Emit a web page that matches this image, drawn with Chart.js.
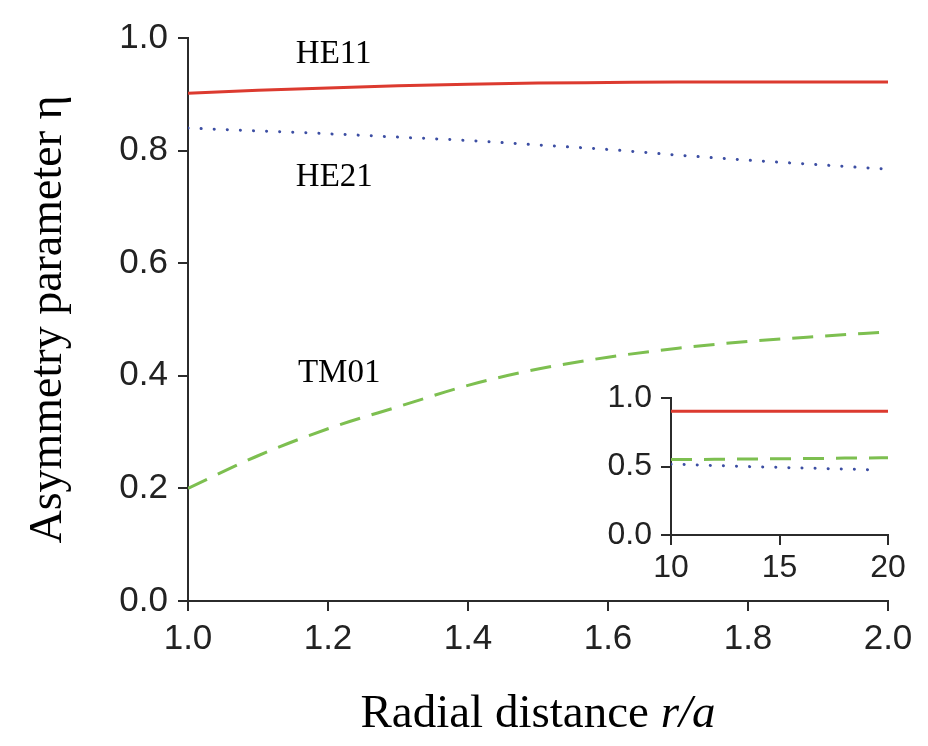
<!DOCTYPE html>
<html>
<head>
<meta charset="utf-8">
<script src="https://cdn.jsdelivr.net/npm/chart.js@4"></script>
<style>
  body { margin: 0; background: #fff; overflow: hidden; }
  #wrap { position: relative; width: 928px; height: 746px; }
  #mainChart { position: absolute; left: 0; top: 0; }
  #insetChart { position: absolute; left: 560px; top: 370px; }
</style>
</head>
<body>
<div id="wrap">
  <canvas id="mainChart" width="928" height="746"></canvas>
  <canvas id="insetChart" width="368" height="250"></canvas>
</div>
<script>
// -------------------- Data --------------------
const radius = [1.0, 1.1, 1.2, 1.3, 1.4, 1.5, 1.6, 1.7, 1.8, 1.9, 2.0];
const he11 = [0.902, 0.907, 0.911, 0.915, 0.918, 0.920, 0.921, 0.922, 0.922, 0.922, 0.922];
const he21 = [0.840, 0.835, 0.830, 0.824, 0.818, 0.810, 0.802, 0.792, 0.783, 0.775, 0.767];
const tm01 = [0.200, 0.258, 0.306, 0.345, 0.383, 0.412, 0.433, 0.449, 0.461, 0.470, 0.478];

const insetRadius = [10, 11, 12, 13, 14, 15, 16, 17, 18, 19, 20];
const insetHe11 = [0.905, 0.905, 0.905, 0.905, 0.905, 0.905, 0.905, 0.905, 0.904, 0.904, 0.904];
const insetTm01 = [0.551, 0.552, 0.553, 0.555, 0.556, 0.557, 0.559, 0.560, 0.562, 0.563, 0.565];
const insetRadiusHe21 = [10, 11, 12, 13, 14, 15, 16, 17, 18, 19, 19.5];
const insetHe21 = [0.518, 0.513, 0.508, 0.503, 0.498, 0.494, 0.490, 0.486, 0.482, 0.478, 0.476];

const xTicksMain = [1.0, 1.2, 1.4, 1.6, 1.8, 2.0];
const yTicksMain = [0.0, 0.2, 0.4, 0.6, 0.8, 1.0];
const xTicksInset = [10, 15, 20];
const yTicksInset = [0.0, 0.5, 1.0];

// curve names, placed at (r, eta) of their left baseline
const curveNames = ["HE11", "HE21", "TM01"];
const curveNameR = [1.154, 1.154, 1.157];
const curveNameEta = [0.955, 0.737, 0.389];

// -------------------- Styles --------------------
const RED = "#dc3a2f";
const BLUE = "#3c4ea3";
const GREEN = "#7dbf50";
const AXIS = "#2b2b2b";
const SANS = "'Liberation Sans', Arial, sans-serif";
const SERIF = "'Liberation Serif', 'Times New Roman', serif";

function points(xs, ys) {
  return xs.map((x, i) => ({ x: x, y: ys[i] }));
}

function lineSets(xs, a, b, cxs, c) {
  return [
    { data: points(xs, a), borderColor: RED, borderWidth: 3 },
    { data: points(cxs, c), borderColor: BLUE, borderWidth: 3,
      borderDash: [0.1, 13], borderCapStyle: "round" },
    { data: points(xs, b), borderColor: GREEN, borderWidth: 3,
      borderDash: [21, 12] }
  ];
}

function axisOpts(ticksList, fitKey, fitValue, tickOpts, extra) {
  return Object.assign({
    type: "linear",
    min: ticksList[0],
    max: ticksList[ticksList.length - 1],
    afterBuildTicks: (scale) => { scale.ticks = ticksList.map(v => ({ value: v })); },
    afterFit: (scale) => { scale[fitKey] = fitValue; },
    border: { display: true, color: AXIS, width: 2 },
    grid: { drawOnChartArea: false, drawTicks: true, tickLength: 10, color: AXIS, lineWidth: 2 },
    ticks: Object.assign({ color: "#222", maxRotation: 0, autoSkip: false }, tickOpts)
  }, extra || {});
}

// -------------------- Texts drawn on the main chart --------------------
const textPlugin = {
  id: "texts",
  afterDraw(chart) {
    const ctx = chart.ctx;
    const xs = chart.scales.x;
    const ys = chart.scales.y;
    ctx.save();
    ctx.fillStyle = "#000";
    ctx.textBaseline = "alphabetic";
    ctx.textAlign = "left";
    ctx.font = "33px " + SERIF;
    curveNames.forEach((name, i) => {
      ctx.fillText(name, xs.getPixelForValue(curveNameR[i]), ys.getPixelForValue(curveNameEta[i]));
    });

    // x-axis title with italic r/a
    const plain = "Radial distance ";
    const ital = "r/a";
    const normalFont = "47px " + SERIF;
    const italicFont = "italic 47px " + SERIF;
    ctx.font = normalFont;
    const w1 = ctx.measureText(plain).width;
    ctx.font = italicFont;
    const w2 = ctx.measureText(ital).width;
    const cx = (chart.chartArea.left + chart.chartArea.right) / 2;
    const x0 = cx - (w1 + w2) / 2;
    const baseY = 727;
    ctx.font = normalFont;
    ctx.fillText(plain, x0, baseY);
    ctx.font = italicFont;
    ctx.fillText(ital, x0 + w1, baseY);
    ctx.restore();
  }
};

const whiteBg = {
  id: "whiteBg",
  beforeDraw(chart) {
    const ctx = chart.ctx;
    ctx.save();
    ctx.fillStyle = "#fff";
    ctx.fillRect(0, 0, chart.width, chart.height);
    ctx.restore();
  }
};

// -------------------- Main chart --------------------
new Chart(document.getElementById("mainChart"), {
  type: "line",
  data: { datasets: lineSets(radius, he11, tm01, radius, he21) },
  options: {
    responsive: false,
    animation: false,
    layout: { padding: { top: 38, right: 40, left: 0, bottom: 0 } },
    elements: {
      point: { radius: 0 },
      line: { cubicInterpolationMode: "monotone", fill: false }
    },
    plugins: { legend: { display: false }, tooltip: { enabled: false } },
    scales: {
      x: axisOpts(xTicksMain, "height", 145,
        { font: { family: SANS, size: 35 }, padding: 7, callback: v => v.toFixed(1) }),
      y: axisOpts(yTicksMain, "width", 188,
        { font: { family: SANS, size: 35 }, padding: 10, callback: v => v.toFixed(1) },
        {
          title: {
            display: true,
            text: "Asymmetry parameter η",
            color: "#000",
            font: { family: SERIF, size: 46 },
            padding: { top: 21, bottom: 0 }
          }
        })
    }
  },
  plugins: [whiteBg, textPlugin]
});

// -------------------- Inset chart --------------------
new Chart(document.getElementById("insetChart"), {
  type: "line",
  data: { datasets: lineSets(insetRadius, insetHe11, insetTm01, insetRadiusHe21, insetHe21) },
  options: {
    responsive: false,
    animation: false,
    layout: { padding: { top: 24, right: 40, left: 0, bottom: 0 } },
    elements: {
      point: { radius: 0 },
      line: { cubicInterpolationMode: "monotone", fill: false }
    },
    plugins: { legend: { display: false }, tooltip: { enabled: false } },
    scales: {
      x: axisOpts(xTicksInset, "height", 85,
        { font: { family: SANS, size: 32 }, padding: 4, callback: v => String(v) }),
      y: axisOpts(yTicksInset, "width", 111,
        { font: { family: SANS, size: 32 }, padding: 9, callback: v => v.toFixed(1) })
    }
  }
});
</script>
</body>
</html>
